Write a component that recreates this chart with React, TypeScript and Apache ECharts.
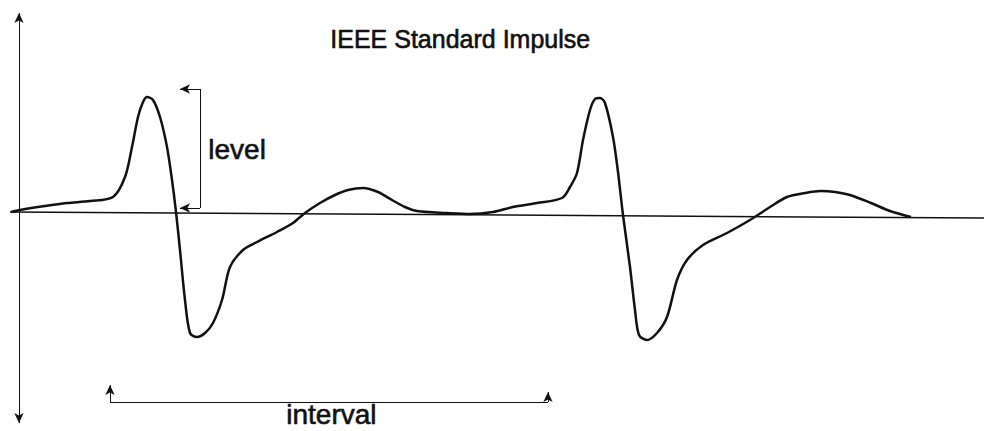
import React, { useEffect, useRef } from "react";
import * as echarts from "echarts";

// time (horizontal units) and amplitude (vertical units, 0 = baseline)
const impulseT = [11, 20, 45, 67, 90, 113, 125, 132, 138, 143, 147, 153, 160, 167, 172, 176, 180, 185, 190, 197, 205, 213, 222, 230, 243, 257, 277, 293, 305, 320, 335, 348, 363, 378, 392, 405, 417, 447, 470, 493, 513, 537, 562, 570, 577, 583, 590, 595, 600, 605, 613, 618, 623, 630, 635, 639, 647, 657, 667, 677, 687, 703, 727, 750, 770, 787, 805, 821, 835, 850, 871, 890, 911];
const impulseV = [0, 2, 6, 9, 11, 15, 35, 65, 95, 110, 115, 112, 95, 65, 32, 0, -38, -88, -121, -125, -121, -111, -88, -55, -38, -30, -20, -11, -1, 9, 17, 22, 24, 20, 12, 5, 1, -1, -2, 0, 5, 9, 14, 25, 39, 72, 102, 113, 114, 109, 75, 40, -3, -55, -98, -123, -128, -121, -105, -68, -48, -33, -21, -8, 5, 15, 19, 21, 20, 17, 9, 1, -5];

const baselineT = [10, 984];
const baselineV = [0, -6];

const yAxisT = 19;
const yAxisRange = [199, -211];

const levelT = [200, 180];
const levelV = [123, 4];

const intervalT = [110, 548];
const intervalV = -190;
const intervalTickTop = [-173, -180];

const titleText = "IEEE Standard Impulse";
const levelText = "level";
const intervalText = "interval";

export default function App() {
  const ref = useRef<HTMLDivElement>(null);
  useEffect(() => {
    if (!ref.current) return;
    const chart = echarts.init(ref.current, null, { renderer: "svg" });
    const font = "Liberation Sans";
    const black = "#111";
    const seg = (a: number[], b: number[], sym: string[] = ["none", "none"]) => [
      { coord: a, symbol: sym[0] },
      { coord: b, symbol: sym[1] },
    ];
    chart.setOption({
      animation: false,
      backgroundColor: "#fff",
      grid: { left: 0, right: 0, top: 0, bottom: 0 },
      xAxis: { type: "value", min: 0, max: 984, show: false },
      yAxis: { type: "value", min: -219, max: 212, show: false },
      graphic: [
        { type: "text", left: 330, top: 26, style: { text: titleText, font: `25px '${font}'`, fill: black, stroke: black, lineWidth: 0.6 } },
        { type: "text", left: 208, top: 135, style: { text: levelText, font: `28px '${font}'`, fill: black, stroke: black, lineWidth: 0.6 } },
        { type: "text", left: 286, top: 400, style: { text: intervalText, font: `28px '${font}'`, fill: black, stroke: black, lineWidth: 0.6 } },
      ],
      series: [
        {
          type: "line",
          data: baselineT.map((t, i) => [t, baselineV[i]]),
          symbol: "none",
          lineStyle: { color: black, width: 1.5 },
          silent: true,
          markLine: {
            silent: true,
            symbolSize: [7, 10],
            label: { show: false },
            lineStyle: { color: black, width: 1, type: "solid" },
            data: [
              seg([yAxisT, yAxisRange[0]], [yAxisT, yAxisRange[1]], ["arrow", "arrow"]),
              seg([levelT[0], levelV[0]], [levelT[0], levelV[1]]),
              seg([levelT[0], levelV[0]], [levelT[1], levelV[0]], ["none", "arrow"]),
              seg([levelT[0], levelV[1]], [levelT[1], levelV[1]], ["none", "arrow"]),
              seg([intervalT[0], intervalV], [intervalT[1], intervalV]),
              seg([intervalT[0], intervalV], [intervalT[0], intervalTickTop[0]], ["none", "arrow"]),
              seg([intervalT[1], intervalV], [intervalT[1], intervalTickTop[1]], ["none", "arrow"]),
            ],
          },
        },
        {
          type: "line",
          data: impulseT.map((t, i) => [t, impulseV[i]]),
          symbol: "none",
          smooth: 0.3,
          lineStyle: { color: black, width: 2.5 },
          silent: true,
        },
      ],
    });
    return () => chart.dispose();
  }, []);
  return <div ref={ref} style={{ position: "fixed", left: 0, top: 0, width: 984, height: 431 }} />;
}
